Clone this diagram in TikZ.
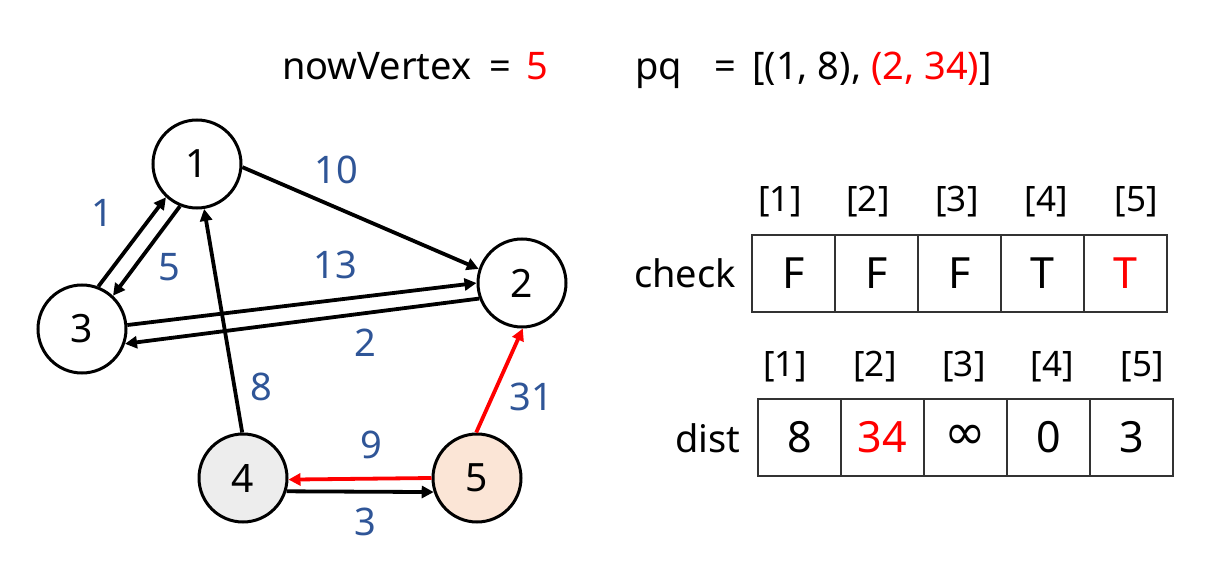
\documentclass[tikz,border=0pt]{standalone}
\usepackage{fontspec}
\setmainfont{Noto Sans}
\newfontfamily\symfont{DejaVu Sans}
\usetikzlibrary{arrows.meta}
\definecolor{wblue}{HTML}{2F5597}
\definecolor{grayfill}{HTML}{EDEDED}
\definecolor{peach}{HTML}{FBE5D6}
\begin{document}
\begin{tikzpicture}[x=1pt,y=-1pt,
  vtx/.style={circle,draw=black,line width=3pt,minimum size=88pt,inner sep=0pt,
    font=\fontsize{39}{44}\selectfont},
  edge/.style={line width=3.8pt,-{Triangle[length=12pt,width=12pt]}},
  wlabel/.style={text=wblue,font=\fontsize{38}{44}\selectfont,inner sep=0pt},
  txt/.style={font=\fontsize{38}{44}\selectfont,inner sep=0pt},
  idx/.style={font=\fontsize{35}{40}\selectfont,inner sep=0pt},
  cell/.style={draw=black!80,line width=2.5pt,minimum width=83pt,minimum height=77pt,
    inner sep=0pt,font=\fontsize{43}{48}\selectfont}]
\useasboundingbox (0,0) rectangle (1224,577);

% header line
\node[txt,anchor=base west] (nv) at (282,80) {nowVertex};
\node[txt,anchor=base] (eq1) at (500,80) {=};
\node[txt,anchor=base,text=red] (nvv) at (537,80) {5};
\node[txt,anchor=base west] (pq) at (635,80) {pq};
\node[txt,anchor=base] (eq2) at (725,80) {=};
\node[txt,anchor=base west] (pqv) at (752,80) {[(1, 8), \textcolor{red}{(2, 34)}]};

% vertices
\node[vtx] (n1) at (197,164) {1};
\node[vtx] (n2) at (522,283) {2};
\node[vtx] (n3) at (82,329) {3};
\node[vtx,fill=grayfill] (n4) at (243,478) {4};
\node[vtx,fill=peach] (n5) at (477,478) {5};

% edges
\draw[edge] (n1.356) -- (n2.162);
\draw[edge] (n3.69) -- (n1.227);
\draw[edge] (n1.248) -- (n3.47);
\draw[edge] (n3.5) -- (n2.180);
\draw[edge] (n2.200) -- (n3.341);
\draw[edge] (n4.91) -- (n1.279);
\draw[edge,red] (n5.91) -- (n2.271);
\draw[edge,red] (n5.180) -- (n4.358);
\draw[edge] (n4.343) -- (n5.198);

% weights
\node[wlabel] (w12) at (336,170) {10};
\node[wlabel] (w31) at (102,213) {1};
\node[wlabel] (w13) at (169,267) {5};
\node[wlabel] (w32) at (335,265) {13};
\node[wlabel] (w23) at (365,343) {2};
\node[wlabel] (w41) at (261,387) {8};
\node[wlabel] (w52) at (531,397) {31};
\node[wlabel] (w54) at (371,445) {9};
\node[wlabel] (w45) at (365,522) {3};

% check array
\node[txt] (chk) at (685,273) {check};
\foreach \i/\x/\v in {1/793.5/F,2/876.5/F,3/959.5/F,4/1042.5/T}
  \node[cell] (c\i) at (\x,273.5) {\v};
\node[cell,text=red] (c5) at (1125.5,273.5) {T};
\foreach \i/\x in {1/780,2/868,3/957,4/1046,5/1136}
  \node[idx] (ci\i) at (\x,202) {[\i]};

% dist array
\node[txt] (dst) at (708,438) {dist};
\node[cell] (d1) at (799.5,437.5) {8};
\node[cell,text=red] (d2) at (882.5,437.5) {34};
\node[cell] (d3) at (965.5,437.5) {\fontsize{50}{50}\selectfont\symfont ∞};
\node[cell] (d4) at (1048.5,437.5) {0};
\node[cell] (d5) at (1131.5,437.5) {3};
\foreach \i/\x in {1/785,2/875,3/964,4/1052,5/1142}
  \node[idx] (di\i) at (\x,367) {[\i]};
\end{tikzpicture}
\end{document}
